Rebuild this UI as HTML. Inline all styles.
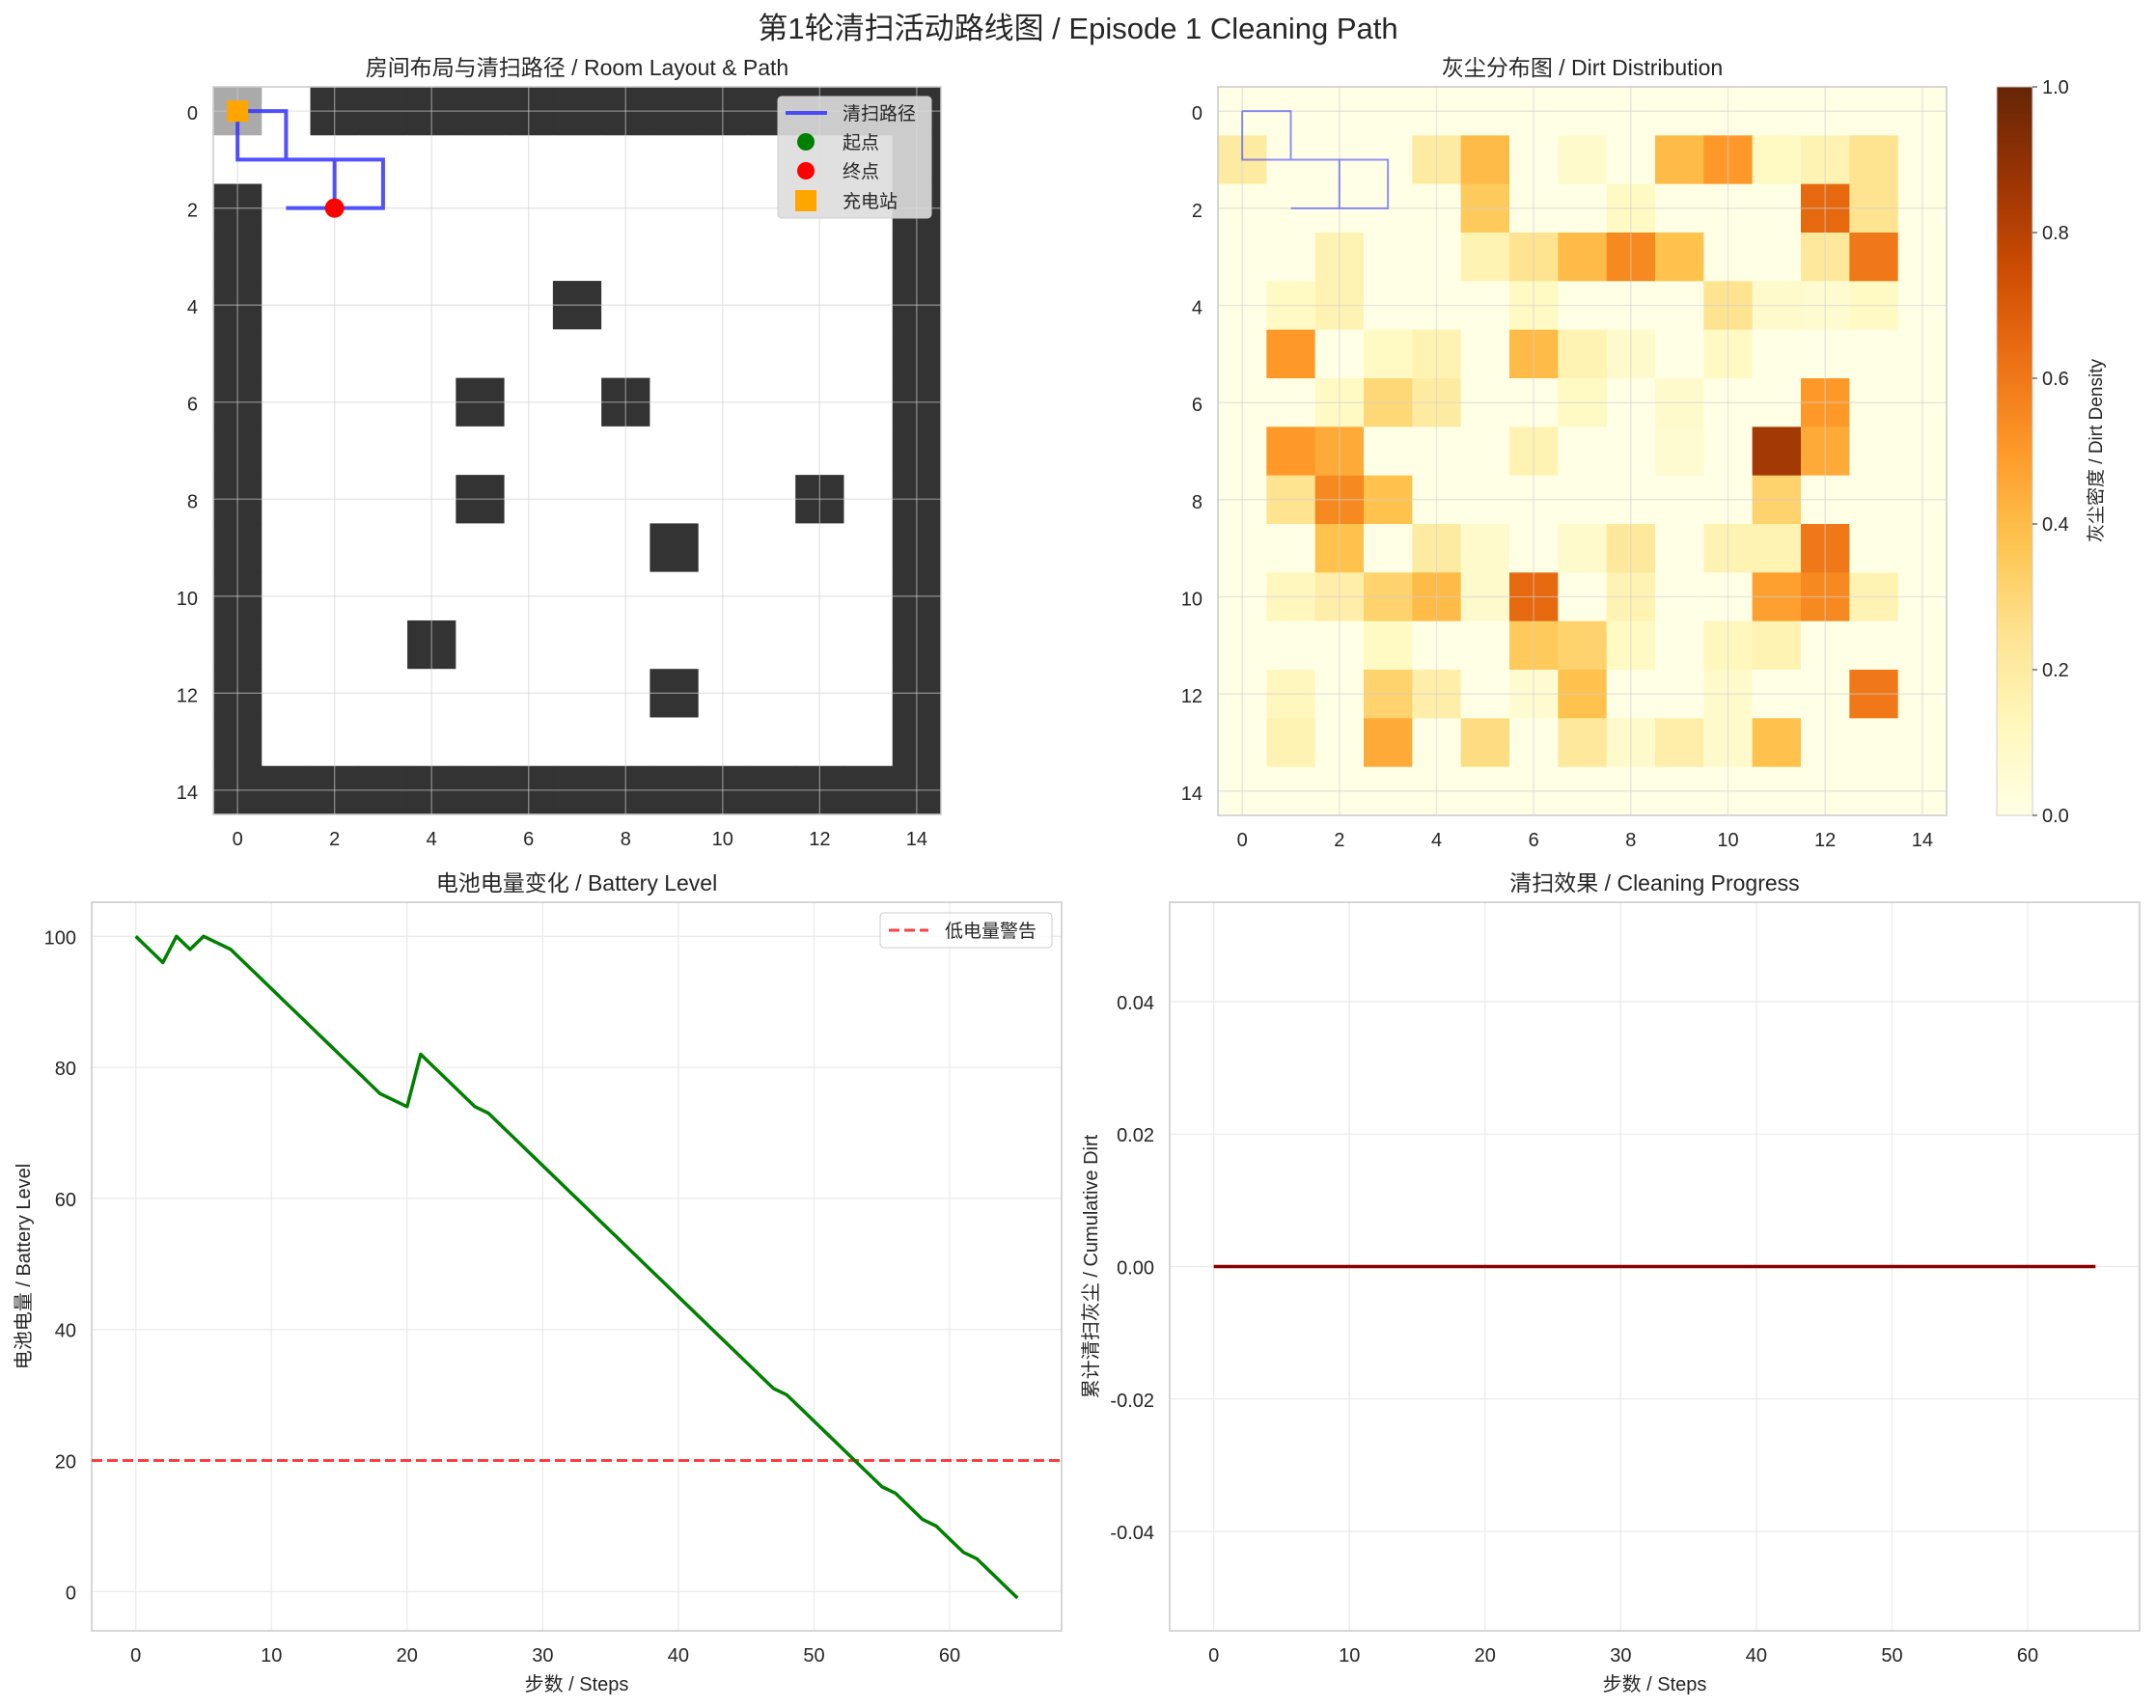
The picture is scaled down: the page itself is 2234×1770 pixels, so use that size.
<!DOCTYPE html>
<html><head><meta charset="utf-8"><style>
html,body{margin:0;padding:0;background:#fff}
svg{display:block;font-family:"Liberation Sans","Noto Sans CJK SC",sans-serif}
</style></head><body>
<svg id="fig" width="2234" height="1770" viewBox="0 0 2234 1770" xmlns="http://www.w3.org/2000/svg">
<text x="1117" y="40" font-size="31" text-anchor="middle" fill="#262626">第1轮清扫活动路线图 / Episode 1 Cleaning Path</text>
</svg>
<script>
// ---------- data ----------
const wallRows = [
"G1WWWWWWWWWWWWW",
"11111111111111W",
"W1111111111111W",
"W1111111111111W",
"W1111111111111W",
"W1111111111111W",
"W1111111111111W",
"W1111111111111W",
"W1111111111111W",
"W1111111111111W",
"W1111111111111W",
"W1111111111111W",
"W1111111111111W",
"W1111111111111W",
"WWWWWWWWWWWWWWW"];
const obstacles = [[4,7],[6,5],[6,8],[8,5],[8,12],[9,9],[11,4],[12,9]];
const pathX = [0,1,1,0,0,0,1,2,3,3,2,2,2,1,2];
const pathY = [0,0,1,1,0,1,1,1,1,2,2,1,2,2,2];
const dirt = [
[0,0,0,0,0,0,0,0,0,0,0,0,0,0,0],
[0.2,0,0,0,0.2,0.4,0,0.08,0,0.4,0.5,0.1,0.15,0.25,0],
[0,0,0,0,0,0.35,0,0,0.1,0,0,0,0.65,0.25,0],
[0,0,0.15,0,0,0.15,0.25,0.4,0.55,0.38,0,0,0.22,0.6,0],
[0,0.1,0.15,0,0,0,0.1,0,0,0,0.25,0.08,0.06,0.1,0],
[0,0.5,0,0.1,0.15,0,0.4,0.15,0.08,0,0.1,0,0,0,0],
[0,0,0.1,0.3,0.2,0,0,0.1,0,0.08,0,0,0.5,0,0],
[0,0.5,0.45,0,0,0,0.15,0,0,0.06,0,0.85,0.45,0,0],
[0,0.25,0.55,0.38,0,0,0,0,0,0,0,0.32,0,0,0],
[0,0,0.38,0,0.2,0.08,0,0.08,0.22,0,0.15,0.15,0.6,0,0],
[0,0.12,0.18,0.32,0.4,0.08,0.65,0,0.15,0,0,0.48,0.55,0.15,0],
[0,0,0,0.1,0,0,0.35,0.32,0.1,0,0.12,0.15,0,0,0],
[0,0.12,0,0.32,0.18,0,0.06,0.38,0,0,0.08,0,0,0.6,0],
[0,0.15,0,0.45,0,0.28,0,0.22,0.08,0.18,0.08,0.38,0,0,0],
[0,0,0,0,0,0,0,0,0,0,0,0,0,0,0]];
const battery = [100,98,96,100,98,100,99,98,96,94,92,90,88,86,84,82,80,78,76,75,74,82,80,78,76,74,73,71,69,67,65,63,61,59,57,55,53,51,49,47,45,43,41,39,37,35,33,31,30,28,26,24,22,20,18,16,15,13,11,10,8,6,5,3,1,-1];
const cleaned = battery.map(()=>0);
const lowBattery = 20;
const battTicksY = [0,20,40,60,80,100];
const stepTicks = [0,10,20,30,40,50,60];
const cleanTicksY = [-0.04,-0.02,0,0.02,0.04];
const cleanTickLabels = ["-0.04","-0.02","0.00","0.02","0.04"];
const gridTicks = [0,2,4,6,8,10,12,14];
const cbTicks = [0,0.2,0.4,0.6,0.8,1.0];
const cbTickLabels = ["0.0","0.2","0.4","0.6","0.8","1.0"];

// ---------- helpers ----------
const NS="http://www.w3.org/2000/svg";
const svg=document.getElementById('fig');
function el(tag,attrs,parent,txt){const e=document.createElementNS(NS,tag);for(const k in attrs)e.setAttribute(k,attrs[k]);if(txt!==undefined)e.textContent=txt;(parent||svg).appendChild(e);return e;}
function lin(d0,d1,r0,r1){return v=>r0+(v-d0)/(d1-d0)*(r1-r0);}
const YB=[[0,[255,255,229]],[.125,[255,247,188]],[.25,[254,227,145]],[.375,[254,196,79]],[.5,[254,153,41]],[.625,[236,112,20]],[.75,[204,76,2]],[.875,[153,52,4]],[1,[102,37,6]]];
function ylorbr(v){v=Math.max(0,Math.min(1,v));for(let i=1;i<YB.length;i++){if(v<=YB[i][0]){const a=YB[i-1],b=YB[i],t=(v-a[0])/(b[0]-a[0]);return 'rgb('+a[1].map((c,j)=>Math.round(c+(b[1][j]-c)*t)).join(',')+')';}}return 'rgb(102,37,6)';}
function tickText(g,x,y,t,anchor){const e=el('text',{x:x,y:y,'font-size':20,'text-anchor':anchor,fill:'#262626'},g,t);return e;}

// ---------- grid panels (map & heatmap) ----------
function gridPanel(name,L,T,S,title){
  const g=el('g',{});
  const sx=lin(-0.5,14.5,L,L+S), sy=lin(-0.5,14.5,T,T+S);
  el('text',{x:L+S/2,y:T-12,'font-size':23,'text-anchor':'middle',fill:'#262626',},g,title);
  return {g,sx,sy};
}
function gridOverlay(p,L,T,S){
  gridTicks.forEach(t=>{
    el('line',{x1:p.sx(t),x2:p.sx(t),y1:T,y2:T+S,stroke:'#cfcfcf','stroke-opacity':0.55,'stroke-width':1.3},p.g);
    el('line',{y1:p.sy(t),y2:p.sy(t),x1:L,x2:L+S,stroke:'#cfcfcf','stroke-opacity':0.55,'stroke-width':1.3},p.g);
    tickText(p.g,p.sx(t),T+S+32,String(t),'middle');
    tickText(p.g,L-16,p.sy(t)+9,String(t),'end');
  });
  el('rect',{x:L,y:T,width:S,height:S,fill:'none',stroke:'#cccccc','stroke-width':1.6},p.g);
}
function drawPath(p,color,width,opacity){
  const pts=pathX.map((x,i)=>p.sx(x)+','+p.sy(pathY[i])).join(' ');
  const e=el('polyline',{points:pts,fill:'none',stroke:color,'stroke-width':width,'stroke-opacity':opacity},p.g);
  
}

// Map
(function(){
  const L=221,T=90,S=754;
  const p=gridPanel('room-layout-panel',L,T,S,'房间布局与清扫路径 / Room Layout & Path');
  const cw=S/15;
  for(let r=0;r<15;r++)for(let c=0;c<15;c++){
    let ch=wallRows[r][c];
    if(obstacles.some(o=>o[0]===r&&o[1]===c))ch='W';
    const f=ch==='W'?'#333333':ch==='G'?'#aaaaaa':'#ffffff';
    const e=el('rect',{x:p.sx(c-0.5),y:p.sy(r-0.5),width:cw+0.5,height:cw+0.5,fill:f},p.g);
    
  }
  gridOverlay(p,L,T,S);
  drawPath(p,'#3333ff',4,0.85);
  const st=el('circle',{cx:p.sx(pathX[0]),cy:p.sy(pathY[0]),r:10,fill:'green'},p.g);
  const n=pathX.length-1;
  const en=el('circle',{cx:p.sx(pathX[n]),cy:p.sy(pathY[n]),r:10,fill:'red'},p.g);
  const ch=el('rect',{x:p.sx(0)-11,y:p.sy(0)-11,width:22,height:22,fill:'orange'},p.g);
  // legend
  const lg=el('g',{});p.g.appendChild(lg);
  el('rect',{x:806,y:100,width:159,height:126,rx:4,fill:'#dddddd','fill-opacity':0.9,stroke:'#cccccc'},lg);
  el('line',{x1:814,x2:857,y1:117,y2:117,stroke:'#3333ff','stroke-width':4,'stroke-opacity':0.85},lg);
  el('circle',{cx:835,cy:147,r:9,fill:'green'},lg);
  el('circle',{cx:835,cy:177,r:9,fill:'red'},lg);
  el('rect',{x:824,y:197,width:22,height:22,fill:'orange'},lg);
  [['清扫路径',124],['起点',154],['终点',184],['充电站',215]].forEach(a=>el('text',{x:873,y:a[1],'font-size':19,fill:'#262626'},lg,a[0]));
})();

// Heatmap
(function(){
  const L=1262,T=90,S=755;
  const p=gridPanel('dirt-heatmap-panel',L,T,S,'灰尘分布图 / Dirt Distribution');
  const cw=S/15;
  for(let r=0;r<15;r++)for(let c=0;c<15;c++){
    const e=el('rect',{x:p.sx(c-0.5),y:p.sy(r-0.5),width:cw+0.5,height:cw+0.5,fill:ylorbr(dirt[r][c])},p.g);
    
  }
  gridOverlay(p,L,T,S);
  drawPath(p,'#3333ff',2,0.55);
  // colorbar
  const cb=el('g',{});
  const cL=2069,cW=37,cT=90,cH=755;
  const defs=el('defs',{},cb);const gr=el('linearGradient',{id:'cbg',x1:0,y1:1,x2:0,y2:0},defs);
  YB.forEach(s=>el('stop',{offset:s[0],'stop-color':'rgb('+s[1].join(',')+')'},gr));
  el('rect',{x:cL,y:cT,width:cW,height:cH,fill:'url(#cbg)',stroke:'#cccccc'},cb);
  const cy=lin(0,1,cT+cH,cT);
  cbTicks.forEach((t,i)=>{el('line',{x1:cL+cW,x2:cL+cW+5,y1:cy(t),y2:cy(t),stroke:'#262626'},cb);tickText(cb,cL+cW+10,cy(t)+7,cbTickLabels[i],'start');});
  el('text',{x:0,y:0,'font-size':19,'text-anchor':'middle',fill:'#262626',transform:'translate(2178,467) rotate(-90)'},cb,'灰尘密度 / Dirt Density');
})();

// ---------- line panels ----------
function linePanel(name,L,T,W,H,ymin,ymax,yt,ytl,title,ylab,ylx){
  const g=el('g',{});
  const sx=lin(-3.25,68.25,L,L+W), sy=lin(ymin,ymax,T+H,T);
  el('text',{x:L+W/2,y:T-12,'font-size':23,'text-anchor':'middle',fill:'#262626',},g,title);
  stepTicks.forEach(t=>{el('line',{x1:sx(t),x2:sx(t),y1:T,y2:T+H,stroke:'#ebebeb','stroke-width':1.3},g);tickText(g,sx(t),T+H+32,String(t),'middle');});
  yt.forEach((t,i)=>{el('line',{y1:sy(t),y2:sy(t),x1:L,x2:L+W,stroke:'#ebebeb','stroke-width':1.3},g);tickText(g,L-16,sy(t)+8,ytl[i],'end');});
  el('rect',{x:L,y:T,width:W,height:H,fill:'none',stroke:'#cccccc','stroke-width':1.6},g);
  const xl=el('text',{x:L+W/2,y:T+H+62,'font-size':20,'text-anchor':'middle',fill:'#262626'},g,'步数 / Steps');
  const yl=el('text',{x:0,y:0,'font-size':20,'text-anchor':'middle',fill:'#262626',transform:'translate('+ylx+','+(T+H/2)+') rotate(-90)'},g,ylab);
  return {g,sx,sy,L,W};
}
(function(){
  const p=linePanel('battery-panel',95,935,1005,755,-6,105.2,battTicksY,battTicksY.map(String),'电池电量变化 / Battery Level','电池电量 / Battery Level',31);
  const w=el('line',{x1:p.L,x2:p.L+p.W,y1:p.sy(lowBattery),y2:p.sy(lowBattery),stroke:'red','stroke-opacity':0.75,'stroke-width':3,'stroke-dasharray':'11,5'},p.g);
  
  const l=el('polyline',{points:battery.map((v,i)=>p.sx(i)+','+p.sy(v)).join(' '),fill:'none',stroke:'green','stroke-width':3.5,'stroke-linejoin':'round'},p.g);
  
  const lg=el('g',{});p.g.appendChild(lg);
  el('rect',{x:912,y:946,width:178,height:36,rx:4,fill:'#fff','fill-opacity':0.8,stroke:'#cccccc'},lg);
  el('line',{x1:921,x2:962,y1:964,y2:964,stroke:'red','stroke-opacity':0.75,'stroke-width':3,'stroke-dasharray':'11,5'},lg);
  el('text',{x:979,y:971,'font-size':19,fill:'#262626'},lg,'低电量警告');
})();
(function(){
  const p=linePanel('cleaning-panel',1212,935,1005,755,-0.055,0.055,cleanTicksY,cleanTickLabels,'清扫效果 / Cleaning Progress','累计清扫灰尘 / Cumulative Dirt',1137);
  const l=el('polyline',{points:cleaned.map((v,i)=>p.sx(i)+','+p.sy(v)).join(' '),fill:'none',stroke:'darkred','stroke-width':3.5},p.g);
  
})();
</script>
</body></html>
